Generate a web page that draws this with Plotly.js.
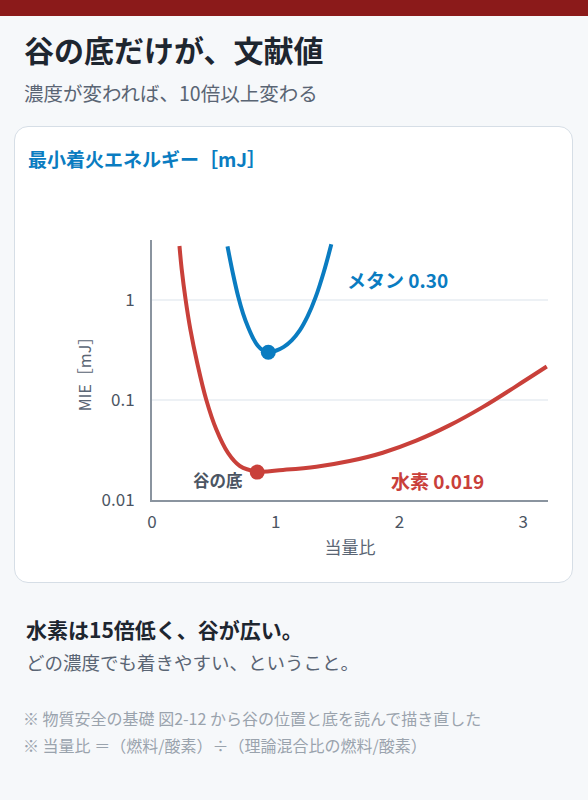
<!DOCTYPE html>
<html>
<head>
<meta charset="utf-8">
<script src="https://cdn.plot.ly/plotly-3.0.1.min.js"></script>
<style>
  body { margin: 0; width: 588px; height: 800px; background: #f6f8fa; font-family: "Noto Sans CJK JP", "Noto Sans", sans-serif; position: relative; overflow: hidden; }
  .bar { position: absolute; left: 0; top: 0; width: 588px; height: 16px; background: #8b1a1a; }
  .t { position: absolute; white-space: nowrap; }
  #title { left: 24px; top: 27px; font-size: 30px; font-weight: 700; color: #1e2630; }
  #sub { left: 24px; top: 78px; font-size: 19.5px; color: #5a6574; }
  .card { position: absolute; left: 14px; top: 126px; width: 557px; height: 455px; background: #fff; border: 1.5px solid #d6dee6; border-radius: 14px; }
  #cardTitle { left: 28px; top: 145px; font-size: 19px; font-weight: 700; color: #0a7cc1; }
  #myDiv { position: absolute; left: 0; top: 180px; width: 588px; height: 400px; }
  #lead { left: 26px; top: 614px; font-size: 21px; font-weight: 700; color: #1e2630; }
  #lead2 { left: 26px; top: 649px; font-size: 18.5px; color: #5a6574; }
  .note { font-size: 16px; color: #9aa3ad; left: 23px; }
</style>
</head>
<body>
<div class="bar"></div>
<div class="t" id="title">谷の底だけが、文献値</div>
<div class="t" id="sub">濃度が変われば、10倍以上変わる</div>
<div class="card"></div>
<div class="t" id="cardTitle">最小着火エネルギー［mJ］</div>
<div id="myDiv"></div>
<div class="t" id="lead">水素は15倍低く、谷が広い。</div>
<div class="t" id="lead2">どの濃度でも着きやすい、ということ。</div>
<div class="t note" style="top: 706px;">※ 物質安全の基礎 図2-12 から谷の位置と底を読んで描き直した</div>
<div class="t note" style="top: 733px;">※ 当量比 ＝（燃料/酸素）÷（理論混合比の燃料/酸素）</div>
<script>
// 図から読んだ値（当量比, MIE mJ）
const h2Phi = [0.222, 0.240, 0.272, 0.310, 0.365, 0.439, 0.519, 0.613, 0.710, 0.85, 1.059, 1.328, 1.597, 1.865, 2.135, 2.403, 2.672, 2.941, 3.19];
const h2Mie = [3.47, 2.03, 1.0, 0.509, 0.236, 0.1, 0.0509, 0.0297, 0.0219, 0.0193, 0.0200, 0.0215, 0.0245, 0.0297, 0.0392, 0.0557, 0.0849, 0.137, 0.216];
const ch4Phi = [0.610, 0.656, 0.696, 0.736, 0.777, 0.817, 0.857, 0.897, 0.938, 1.0, 1.065, 1.129, 1.194, 1.258, 1.323, 1.387, 1.449];
const ch4Mie = [3.43, 1.79, 1.09, 0.731, 0.533, 0.415, 0.346, 0.312, 0.302, 0.311, 0.340, 0.395, 0.497, 0.690, 1.074, 1.884, 3.6];

// 谷の底
const minPhi = [0.85, 0.94];
const minMie = [0.019, 0.30];
const minColors = ['#c9403a', '#0a7cc1'];

const xTicks = [0, 1, 2, 3];
const yTicks = [0.01, 0.1, 1];
const yTickText = ['0.01', '0.1', '1'];

const FONT = '"Noto Sans CJK JP", "Noto Sans", sans-serif';

let traceH2 = {
    x: h2Phi, y: h2Mie, mode: 'lines', type: 'scatter', hoverinfo: 'none',
    line: { width: 4, color: '#c9403a', shape: 'spline', smoothing: 1.1 }
};
let traceCH4 = {
    x: ch4Phi, y: ch4Mie, mode: 'lines', type: 'scatter', hoverinfo: 'none',
    line: { width: 4, color: '#0a7cc1', shape: 'spline', smoothing: 1.1 }
};
let traceMin = {
    x: minPhi, y: minMie, mode: 'markers', type: 'scatter', hoverinfo: 'none',
    marker: { size: 15, color: minColors }
};

let layout = {
    width: 588, height: 400,
    paper_bgcolor: 'rgba(0,0,0,0)',
    plot_bgcolor: 'rgba(0,0,0,0)',
    margin: { l: 152, r: 40, t: 60, b: 80 },
    showlegend: false,
    font: { family: FONT, color: '#4b5563' },
    xaxis: {
        range: [0, 3.2],
        tickvals: xTicks,
        showgrid: false, zeroline: false,
        showline: true, linecolor: '#8a949f', linewidth: 2,
        ticks: 'outside', ticklen: 6, tickcolor: 'rgba(0,0,0,0)',
        tickfont: { size: 17, color: '#4b5563' },
        title: { text: '当量比', font: { size: 17, color: '#5a6574' }, standoff: 10 },
        fixedrange: true
    },
    yaxis: {
        type: 'log',
        range: [-2, 0.6],
        tickvals: yTicks, ticktext: yTickText,
        showgrid: true, gridcolor: '#edf1f5', gridwidth: 1.5,
        zeroline: false,
        showline: true, linecolor: '#8a949f', linewidth: 2,
        ticks: 'outside', ticklen: 12, tickcolor: 'rgba(0,0,0,0)',
        tickfont: { size: 17, color: '#4b5563' },
        title: { text: 'MIE［mJ］', font: { size: 16, color: '#5a6574' }, standoff: 6 },
        fixedrange: true
    },
    annotations: [
        {
            x: 1.98, y: Math.log10(1.62), text: 'メタン ' + minMie[1].toFixed(2),
            showarrow: false, font: { size: 19, color: '#0a7cc1', family: FONT, weight: 700 }
        },
        {
            x: 2.31, y: Math.log10(0.0158), text: '水素 ' + minMie[0].toFixed(3),
            showarrow: false, font: { size: 19, color: '#c9403a', family: FONT, weight: 700 }
        },
        {
            x: minPhi[0], y: Math.log10(minMie[0]), text: '谷の底',
            showarrow: false, xanchor: 'right', xshift: -12, yshift: -8,
            font: { size: 16.5, color: '#4b5563', family: FONT, weight: 700 }
        }
    ]
};

Plotly.newPlot('myDiv', [traceH2, traceCH4, traceMin], layout, { displayModeBar: false, staticPlot: true });
</script>
</body>
</html>
